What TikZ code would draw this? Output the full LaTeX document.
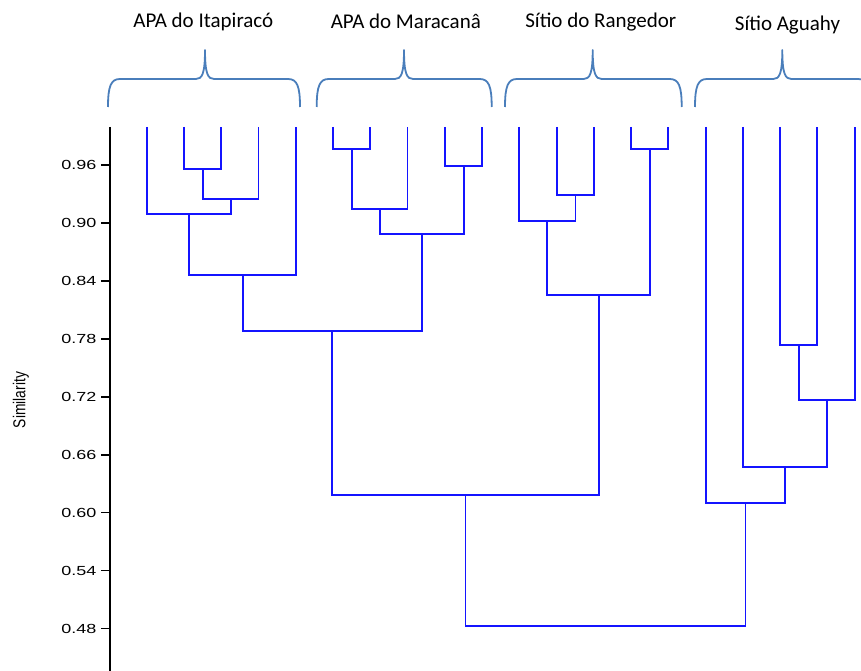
\documentclass[tikz,border=0pt]{standalone}
\usepackage{fontspec}
\usepackage{graphicx}
\setmainfont{Carlito}
\newfontfamily\arialf{Liberation Sans}
\definecolor{bracecol}{RGB}{74,126,187}
\definecolor{dendcol}{RGB}{20,20,255}
\newcommand{\ticktext}[1]{\resizebox{35pt}{9.2pt}{#1}}
\newcommand{\simtext}[1]{\resizebox{56pt}{!}{#1}}
\tikzset{
  brace/.style={draw=bracecol, line width=1.8pt, line join=round},
  dend/.style={draw=dendcol, line width=1.9pt},
  grp/.style={font=\fontsize{21}{25}\selectfont, text=black, inner sep=0pt},
  ticklab/.style={font=\arialf\fontsize{12.6}{14}\selectfont, anchor=east, inner sep=0pt},
  axisline/.style={draw=black, line width=1.9pt},
  tickline/.style={draw=black, line width=1.4pt}
}
\begin{document}
\begin{tikzpicture}[x=1pt,y=-1pt]
\useasboundingbox (0,0) rectangle (861,671);
\clip (0,0) rectangle (861,671);
% group labels
\node[grp] (t1) at (203.3,22) {APA do Itapiracó};
\node[grp] (t2) at (405.8,21) {APA do Maracanâ};
\node[grp] (t3) at (600.8,22) {Sítio do Rangedor};
\node[grp] (t4) at (787.5,25) {Sítio Aguahy};
% braces
\foreach \L/\M/\R in {108/205/300, 316.7/404/491.7, 505/592.7/681.7, 695/782.3/870}{
  \draw[brace] (\L,107) .. controls (\L,86) and (\L+3,79) .. (\L+12,79)
     -- (\M-9,79) .. controls (\M-3,79) and (\M,74) .. (\M,50)
     .. controls (\M,74) and (\M+3,79) .. (\M+9,79)
     -- (\R-12,79) .. controls (\R-3,79) and (\R,86) .. (\R,107);
}
% axis
\coordinate (axtop) at (110,127);
\coordinate (axbot) at (110,671);
\draw[axisline] (axtop) -- (axbot);
\foreach \v [count=\i from 0] in {0.96,0.90,0.84,0.78,0.72,0.66,0.60,0.54,0.48}{
  \coordinate (tk\i) at (110,165+\i*57.96);
  \draw[tickline] (tk\i) -- ++(-9,0);
  \node[ticklab] (tl\i) at (96.5,165+\i*57.96) {\ticktext{\v}};
}
\node[font=\arialf\fontsize{17}{20}\selectfont, rotate=90, inner sep=0pt] (ylab) at (21,400) {\simtext{\scalebox{0.8}[1]{Similarity}}};
% leaves
\foreach \i in {0,...,19}{
  \coordinate (L\i) at (146.7+37.26*\i,127);
}
% merge points
\coordinate (a) at (203,169);
\coordinate (b) at (231,199.3);
\coordinate (c) at (189,214.3);
\coordinate (g1) at (242.6,275.3);
\coordinate (d) at (352,148.7);
\coordinate (e) at (380,209);
\coordinate (f) at (463.7,165.7);
\coordinate (g2) at (421.8,234);
\coordinate (g12) at (332.2,331.3);
\coordinate (h) at (575.5,194.7);
\coordinate (i) at (547.4,221.3);
\coordinate (j) at (650,148.7);
\coordinate (g3) at (598.7,295);
\coordinate (g123) at (465.5,495);
\coordinate (k) at (798.8,345.3);
\coordinate (l) at (826.7,400);
\coordinate (m) at (784.8,466.7);
\coordinate (g4) at (745.5,503.3);
\coordinate (root) at (605.5,625.7);
% dendrogram
\draw[dend] (L1) |- (a) -| (L2);
\draw[dend] (a) |- (b) -| (L3);
\draw[dend] (L0) |- (c) -| (b);
\draw[dend] (c) |- (g1) -| (L4);
\draw[dend] (L5) |- (d) -| (L6);
\draw[dend] (d) |- (e) -| (L7);
\draw[dend] (L8) |- (f) -| (L9);
\draw[dend] (e) |- (g2) -| (f);
\draw[dend] (g1) |- (g12) -| (g2);
\draw[dend] (L11) |- (h) -| (L12);
\draw[dend] (L10) |- (i) -| (h);
\draw[dend] (L13) |- (j) -| (L14);
\draw[dend] (i) |- (g3) -| (j);
\draw[dend] (g12) |- (g123) -| (g3);
\draw[dend] (L17) |- (k) -| (L18);
\draw[dend] (k) |- (l) -| (L19);
\draw[dend] (L16) |- (m) -| (l);
\draw[dend] (L15) |- (g4) -| (m);
\draw[dend] (g123) |- (root) -| (g4);
\end{tikzpicture}
\end{document}
